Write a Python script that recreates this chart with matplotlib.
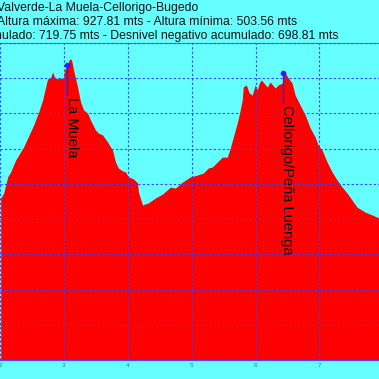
import matplotlib.pyplot as plt

plt.rcParams['font.family'] = ['Liberation Sans', 'DejaVu Sans']

# -------------------- datos del perfil --------------------
dist_km = [2.011, 2.058, 2.120, 2.167, 2.245, 2.323, 2.370, 2.433, 2.527, 2.605,
           2.667, 2.714, 2.745, 2.792, 2.823, 2.855, 2.902, 2.948, 2.995, 3.011,
           3.058, 3.089, 3.120, 3.152, 3.214, 3.261, 3.308, 3.370, 3.417, 3.495,
           3.542, 3.605, 3.683, 3.761, 3.808, 3.855, 3.917, 3.964, 4.011, 4.089,
           4.152, 4.167, 4.230, 4.323, 4.433, 4.542, 4.620, 4.667, 4.745, 4.855,
           4.980, 5.089, 5.183, 5.261, 5.323, 5.402, 5.480, 5.558, 5.605, 5.652,
           5.714, 5.761, 5.792, 5.808, 5.855, 5.902, 5.948, 5.995, 6.027, 6.058,
           6.089, 6.120, 6.183, 6.230, 6.308, 6.355, 6.417, 6.433, 6.464, 6.511,
           6.573, 6.620, 6.698, 6.777, 6.855, 6.933, 6.980, 7.042, 7.120, 7.198,
           7.277, 7.355, 7.433, 7.511, 7.589, 7.714, 7.823, 7.933]
altura = [560, 574, 620, 634, 668, 691, 705, 730, 767, 804,
          838, 875, 898, 901, 918, 903, 898, 901, 898, 923,
          938, 955, 952, 923, 875, 833, 810, 801, 781, 753,
          744, 739, 719, 696, 662, 645, 637, 634, 620, 614,
          603, 577, 540, 546, 560, 571, 583, 591, 588, 605,
          620, 625, 631, 645, 648, 662, 676, 676, 702, 733,
          773, 810, 838, 875, 881, 858, 852, 881, 867, 886,
          895, 889, 875, 889, 872, 881, 886, 909, 915, 901,
          886, 852, 824, 796, 759, 733, 710, 696, 662, 634,
          611, 591, 574, 554, 534, 520, 512, 503, 492][:98]

# puntos destacados
wp_nombre = ['La Muela', 'Cellorigo/Peña Luenga']
wp_km = [3.05, 6.43]
wp_alt = [937, 915]

titulo = ['Perfil: Valverde-La Muela-Cellorigo-Bugedo',
          'Altura máxima: 927.81 mts - Altura mínima: 503.56 mts',
          'Desnivel positivo acumulado: 719.75 mts - Desnivel negativo acumulado: 698.81 mts']
titulo_fin = [198, 297, 338]  # px donde termina cada línea

# -------------------- gráfico --------------------
W = 379
fig = plt.figure(figsize=(W / 100, W / 100), dpi=100)
fig.patch.set_facecolor('#66ffff')
ax = fig.add_axes([0, (W - 360) / W, 1, (360 - 43) / W])
ax.set_facecolor('#66ffff')

ax.fill_between(dist_km, altura, 100, color='#ff0000', lw=0, zorder=1)

ax.set_xlim(2.011, 7.933)
ax.set_ylim(100, 1000)
ax.set_xticks(range(2, 8))
ax.set_yticks(range(100, 1001, 100))
ax.set_yticklabels([])
ax.tick_params(length=0, labelsize=4.5, labelcolor='#447777', pad=2)
ax.grid(True, color='#3344ff', linestyle=(0, (2, 2)), lw=0.8)
ax.set_axisbelow(False)
for s in ['left', 'right']:
    ax.spines[s].set_visible(False)
ax.spines['top'].set_color('#3388ff')
ax.spines['bottom'].set_color('#5544ff')

for nombre, x, y in zip(wp_nombre, wp_km, wp_alt):
    ax.plot([x, x], [y, y - 85], color='#3322aa', lw=0.8, zorder=4)
    ax.plot(x, y, 'o', color='#2222ff', ms=3, zorder=5)
    ax.text(x + 0.07, y - 90, nombre, rotation=-90, ha='center', va='top',
            fontsize=10.5, color='black', zorder=6)

for i, (linea, fin) in enumerate(zip(titulo, titulo_fin)):
    fig.text(fin / W, 1 - (7.5 + 14.5 * i) / W, linea, ha='right', va='center',
             fontsize=8.8, color='#111111')

fig.savefig('out.png', dpi=100, facecolor=fig.get_facecolor())
